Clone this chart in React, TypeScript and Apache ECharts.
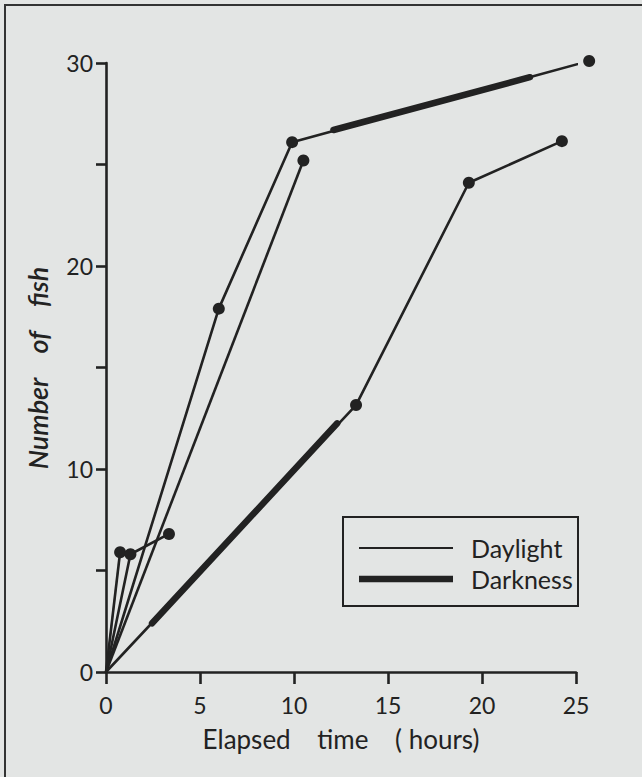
import React, { useEffect, useRef } from "react";
import * as echarts from "echarts";

// Elapsed time (hours) vs cumulative number of fish
const seriesA: number[][] = [[0, 0], [6.0, 17.9], [9.9, 26.1], [25.7, 30.1]];
const seriesB: number[][] = [[0, 0], [10.5, 25.2]];
const seriesC1: number[][] = [[0, 0], [0.75, 5.9]];
const seriesC2: number[][] = [[0, 0], [1.3, 5.8], [3.35, 6.8]];
const seriesD: number[][] = [[0, 0], [13.3, 13.15], [19.3, 24.1], [24.25, 26.15]];
// darkness periods (thick segments)
const darkA: number[][] = [[12.1, 26.7], [22.55, 29.3]];
const darkD: number[][] = [[2.45, 2.4], [12.3, 12.25]];

const xTicks = [0, 5, 10, 15, 20, 25];
const yLabels = [0, 10, 20, 30];

const INK = "#222222";
const FONT = "Lato, 'DejaVu Sans', sans-serif";

function withDots(d: number[][]) {
  return d.map((p) =>
    p[0] === 0 && p[1] === 0 ? { value: p, symbol: "none" } : { value: p }
  );
}

export default function App() {
  const ref = useRef<HTMLDivElement>(null);
  useEffect(() => {
    if (!ref.current) return;
    const chart = echarts.init(ref.current, null, { renderer: "svg" });
    const thin = (name: string, d: number[][]) => ({
      name,
      type: "line",
      data: withDots(d),
      symbol: "circle",
      symbolSize: 12,
      clip: false,
      lineStyle: { color: INK, width: 2.6 },
      itemStyle: { color: INK },
      z: 3,
    });
    const thick = (name: string, d: number[][]) => ({
      name,
      type: "line",
      data: d,
      symbol: "none",
      clip: false,
      lineStyle: { color: INK, width: 6.5, cap: "round" },
      z: 4,
    });
    chart.setOption({
      animation: false,
      backgroundColor: "#e3e5e4",
      grid: { left: 106, top: 63, width: 470, height: 609, outerBoundsMode: "none" },
      xAxis: {
        type: "value",
        min: 0,
        max: 25,
        interval: 5,
        axisLine: { lineStyle: { color: INK, width: 2.6 } },
        axisTick: { show: true, length: 12, lineStyle: { color: INK, width: 2.6 } },
        splitLine: { show: false },
        axisLabel: {
          color: INK,
          fontFamily: FONT,
          fontSize: 23,
          margin: 21,
          formatter: (v: number) => (xTicks.includes(v) ? String(v) : ""),
        },
        name: "Elapsed    time    ( hours)",
        nameLocation: "middle",
        nameGap: 54,
        nameTextStyle: { color: INK, fontFamily: FONT, fontSize: 26 },
      },
      yAxis: {
        type: "value",
        min: 0,
        max: 30,
        interval: 5,
        axisLine: { show: true, lineStyle: { color: INK, width: 2.6 } },
        axisTick: { show: true, length: 10, lineStyle: { color: INK, width: 2.6 } },
        splitLine: { show: false },
        axisLabel: {
          color: INK,
          fontFamily: FONT,
          fontSize: 23,
          margin: 13,
          formatter: (v: number) => (yLabels.includes(v) ? String(v) : ""),
        },
      },
      series: [
        thin("A", seriesA),
        thin("B", seriesB),
        thin("C1", seriesC1),
        thin("C2", seriesC2),
        thin("D", seriesD),
        thick("Darkness A", darkA),
        thick("Darkness D", darkD),
      ],
      graphic: [
        { type: "line", shape: { x1: 4, y1: 5, x2: 642, y2: 5 }, style: { stroke: "#333", lineWidth: 2 } },
        { type: "line", shape: { x1: 5, y1: 5, x2: 5, y2: 777 }, style: { stroke: "#333", lineWidth: 2 } },
        {
          type: "text",
          x: 37,
          y: 368,
          rotation: Math.PI / 2,
          style: {
            text: "Number    of    fish",
            fill: INK,
            font: "italic 600 27px " + FONT,
            align: "center",
            verticalAlign: "middle",
          },
        },
        {
          type: "rect",
          shape: { x: 343, y: 517, width: 235, height: 89 },
          style: { fill: "none", stroke: INK, lineWidth: 2 },
        },
        { type: "line", shape: { x1: 359, y1: 548, x2: 453, y2: 548 }, style: { stroke: INK, lineWidth: 2 } },
        { type: "line", shape: { x1: 359, y1: 579, x2: 453, y2: 579 }, style: { stroke: INK, lineWidth: 6.5 } },
        {
          type: "text",
          x: 471,
          y: 548,
          style: { text: "Daylight", fill: INK, font: "25px " + FONT, verticalAlign: "middle" },
        },
        {
          type: "text",
          x: 471,
          y: 579,
          style: { text: "Darkness", fill: INK, font: "25px " + FONT, verticalAlign: "middle" },
        },
      ],
    });
    return () => chart.dispose();
  }, []);
  return (
    <div
      ref={ref}
      style={{ position: "fixed", left: 0, top: 0, width: 642, height: 777 }}
    />
  );
}
